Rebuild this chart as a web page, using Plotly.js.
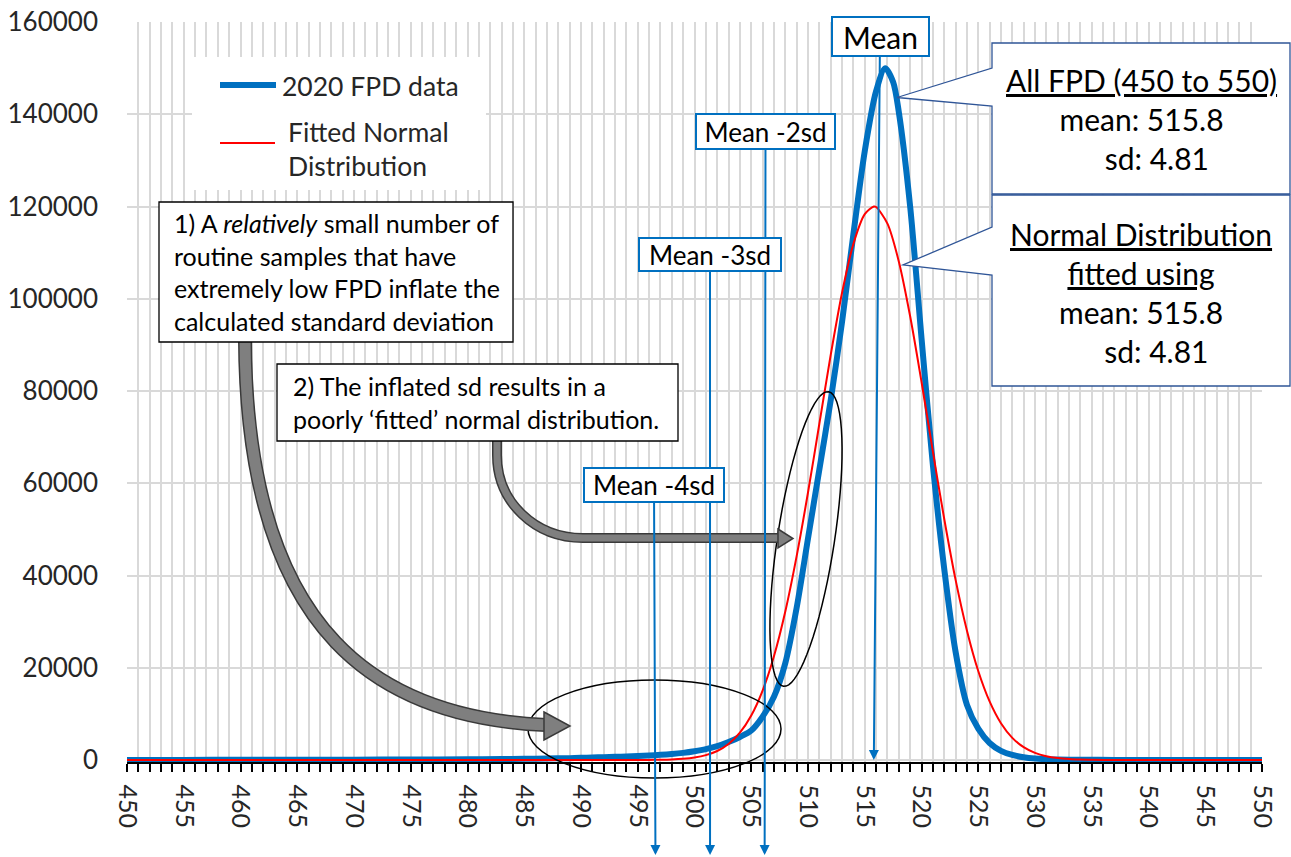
<!DOCTYPE html>
<html><head><meta charset="utf-8">
<script src="https://cdn.plot.ly/plotly-3.0.1.min.js"></script>
<style>html,body{margin:0;padding:0;background:#fff}</style>
</head><body>
<div id="chart" style="width:1291px;height:857px"></div>
<script>
// ---------- data ----------
const fpdX = [450,455,460,465,470,475,480,483,485,487,489,490,491,492,493,494,495,496,497,498,499,500,501,502,503,504,505,506,507,508,509,510,511,512,513,514,515,516,516.8,517.5,518,519,520,521,522,523,524,525,526,527,528,529,530,531,532,534,537,540,545,550];
const fpdCounts = [20,30,40,60,80,110,160,210,250,320,410,470,540,610,690,780,880,990,1120,1300,1550,1900,2350,3000,3900,5000,6400,9400,13700,21000,33000,48000,63000,78000,95000,114000,132000,145000,150000,147000,140500,120000,91500,64000,41500,23500,12000,6800,3700,2000,1100,600,320,170,100,50,30,25,20,15];
const fitX = [450,460,470,480,490,494,496,497,498,499,500,501,502,503,504,505,506,507,508,509,510,511,512,513,514,515,515.8,516,517,518,519,520,521,522,523,524,525,526,527,528,529,530,531,532,533,534,535,537,540,545,550];
const fitCounts = [0,0,0,0,0,5,23,55,125,270,545,1060,1960,3480,5920,9650,15060,22500,32200,44200,58000,72900,87800,101300,111900,118350,120000,119900,116300,108100,96200,82000,66900,52300,39100,28100,19300,12700,7980,4810,2780,1540,815,413,200,93,42,8,1,0,0];
const seriesNames = ['2020 FPD data', 'Fitted Normal<br>Distribution'];
const xTickVals = [450,455,460,465,470,475,480,485,490,495,500,505,510,515,520,525,530,535,540,545,550];
const yTickVals = [0,20000,40000,60000,80000,100000,120000,140000,160000];
const meanValue = 515.8;
const sdValue = 4.81;
const sdMultiples = [0, 2, 3, 4];
const sdLabels = ['Mean', 'Mean -2sd', 'Mean -3sd', 'Mean -4sd'];

// ---------- geometry helpers (pixel -> paper) ----------
const PL = 127, PT = 22, PW = 1135, PB = 762, PH = PB - PT;
const fx = v => (v - PL) / PW;
const fy = v => (PB - v) / PH;
const xpx = v => PL + (v - 450) / 100 * PW;
const P = (x, y) => fx(x).toFixed(5) + ',' + fy(y).toFixed(5);
const toPaper = d => d.replace(/(-?\d+\.?\d*),(-?\d+\.?\d*)/g, (m, a, b) => P(+a, +b));

const FONT = 'Lato, "Open Sans", sans-serif';
const TXT = '#262626';
const BLUE = '#0070c0';

const traces = [
  {x: fpdX, y: fpdCounts, name: seriesNames[0], type: 'scatter', mode: 'lines',
   line: {color: BLUE, width: 6, shape: 'spline', smoothing: 0.8}},
  {x: fitX, y: fitCounts, name: seriesNames[1], type: 'scatter', mode: 'lines',
   line: {color: '#ff0000', width: 2, shape: 'spline', smoothing: 0.8}}
];

const shapes = [];
// legend background
shapes.push({type: 'rect', xref: 'paper', yref: 'paper', x0: fx(192), x1: fx(486), y0: fy(190), y1: fy(57),
  fillcolor: '#ffffff', line: {width: 0}, layer: 'above'});
shapes.push({type: 'line', xref: 'paper', yref: 'paper', x0: fx(220), x1: fx(276), y0: fy(85), y1: fy(85),
  line: {color: BLUE, width: 6}, layer: 'above'});
shapes.push({type: 'line', xref: 'paper', yref: 'paper', x0: fx(220), x1: fx(275), y0: fy(143), y1: fy(143),
  line: {color: '#ff0000', width: 2}, layer: 'above'});
// callouts
const CALLOUT = '#2f5597';
shapes.push({type: 'path', xref: 'paper', yref: 'paper', layer: 'above', fillcolor: '#ffffff',
  line: {color: CALLOUT, width: 1.3},
  path: toPaper('M992,43 L1290,43 L1290,194 L992,194 L992,106 L897,97.5 L992,68 Z')});
shapes.push({type: 'path', xref: 'paper', yref: 'paper', layer: 'above', fillcolor: '#ffffff',
  line: {color: CALLOUT, width: 1.3},
  path: toPaper('M992,195 L1290,195 L1290,386 L992,386 L992,275 L903,265 L992,227 Z')});
// ellipse 1
shapes.push({type: 'circle', xref: 'paper', yref: 'paper', layer: 'above',
  x0: fx(528), x1: fx(781), y0: fy(778), y1: fy(680), line: {color: '#000000', width: 1.5}});
// ellipse 2 (tilted)
(function () {
  const cx = 806, cy = 539, a = 149, b = 28.5, ux = 0.1513, uy = -0.9885, vx = 0.9885, vy = 0.1513;
  let d = '';
  for (let i = 0; i <= 72; i++) {
    const t = i / 72 * 2 * Math.PI;
    const x = cx + a * Math.cos(t) * ux + b * Math.sin(t) * vx;
    const y = cy + a * Math.cos(t) * uy + b * Math.sin(t) * vy;
    d += (i === 0 ? 'M' : ' L') + x.toFixed(2) + ',' + y.toFixed(2);
  }
  shapes.push({type: 'path', xref: 'paper', yref: 'paper', layer: 'above', path: toPaper(d + ' Z'),
    line: {color: '#000000', width: 1.5}});
})();
// gray block arrows
function blockArrow(body, head, w) {
  shapes.push({type: 'path', xref: 'paper', yref: 'paper', layer: 'above', path: toPaper(body),
    line: {color: '#3a3a3a', width: w + 3}});
  shapes.push({type: 'path', xref: 'paper', yref: 'paper', layer: 'above', path: toPaper(body),
    line: {color: '#7f7f7f', width: w}});
  shapes.push({type: 'path', xref: 'paper', yref: 'paper', layer: 'above', path: toPaper(head),
    fillcolor: '#7f7f7f', line: {color: '#3a3a3a', width: 1.5}});
}
blockArrow('M245,338 C246,640 385,718 546,725', 'M544,712 L570,726 L544,740 Z', 11);
blockArrow('M497,438 L497,455 C497,502 535,538 583,538 L780,538', 'M778,529 L793,538.5 L778,548 Z', 7);
// note boxes (frames)
shapes.push({type: 'rect', xref: 'paper', yref: 'paper', layer: 'above', x0: fx(159), x1: fx(513), y0: fy(342), y1: fy(202),
  fillcolor: '#ffffff', line: {color: '#000000', width: 1.3}});
shapes.push({type: 'rect', xref: 'paper', yref: 'paper', layer: 'above', x0: fx(277), x1: fx(678), y0: fy(441), y1: fy(364),
  fillcolor: '#ffffff', line: {color: '#000000', width: 1.3}});

// ---------- annotations ----------
const annotations = [];
const markerBoxes = [
  {cx: 880, cy: 36, w: 99, h: 41, fs: 30},
  {cx: 765.5, cy: 131.5, w: 141, h: 37, fs: 26},
  {cx: 710, cy: 254.5, w: 144, h: 35, fs: 26},
  {cx: 654, cy: 485, w: 142, h: 36, fs: 26}
];
sdMultiples.forEach((k, i) => {
  const xv = meanValue - k * sdValue;
  const mb = markerBoxes[i];
  const tipY = k === 0 ? 760 : 855;
  annotations.push({
    x: xv, xref: 'x', y: k === 0 ? 0 : fy(855), yref: k === 0 ? 'y' : 'paper',
    text: sdLabels[i], showarrow: true, arrowhead: 2, arrowsize: 1, arrowwidth: 2, arrowcolor: BLUE,
    ax: mb.cx - xpx(xv), ay: mb.cy - tipY, axref: 'pixel', ayref: 'pixel', standoff: 0,
    bgcolor: '#ffffff', bordercolor: BLUE, borderwidth: 2, borderpad: 0,
    width: mb.w - 4, height: mb.h - 4, align: 'center', valign: 'middle',
    font: {family: FONT, size: mb.fs, color: '#000000'}
  });
});
// legend texts
annotations.push({xref: 'paper', yref: 'paper', x: fx(280), y: fy(86), xanchor: 'left', yanchor: 'middle',
  text: seriesNames[0], showarrow: false, align: 'left', font: {family: FONT, size: 26.5, color: TXT}});
annotations.push({xref: 'paper', yref: 'paper', x: fx(286), y: fy(149), xanchor: 'left', yanchor: 'middle',
  text: seriesNames[1], showarrow: false, align: 'left', font: {family: FONT, size: 26.5, color: TXT}});
// note texts
annotations.push({xref: 'paper', yref: 'paper', x: fx(172), y: fy(272), xanchor: 'left', yanchor: 'middle',
  text: '1) A <i>relatively</i> small number of<br>routine samples that have<br>extremely low FPD inflate the<br>calculated standard deviation',
  showarrow: false, align: 'left', font: {family: FONT, size: 25, color: '#000000'}});
annotations.push({xref: 'paper', yref: 'paper', x: fx(291), y: fy(402.5), xanchor: 'left', yanchor: 'middle',
  text: '2) The inflated sd results in a<br>poorly \u2018fitted\u2019 normal distribution.',
  showarrow: false, align: 'left', font: {family: FONT, size: 25, color: '#000000'}});
// callout texts
const SP = '\u00a0\u00a0\u00a0\u00a0';
annotations.push({xref: 'paper', yref: 'paper', x: fx(1141), y: fy(119), xanchor: 'center', yanchor: 'middle',
  text: '<u>All FPD (450 to 550)</u><br>mean: ' + meanValue.toFixed(1) + '<br>' + SP + 'sd: ' + sdValue.toFixed(2),
  showarrow: false, align: 'center', font: {family: FONT, size: 30, color: '#000000'}});
annotations.push({xref: 'paper', yref: 'paper', x: fx(1141), y: fy(292), xanchor: 'center', yanchor: 'middle',
  text: '<u>Normal Distribution</u><br><u>fitted using</u><br>mean: ' + meanValue.toFixed(1) + '<br>' + SP + 'sd: ' + sdValue.toFixed(2),
  showarrow: false, align: 'center', font: {family: FONT, size: 30, color: '#000000'}});

const GRID = '#d9d9d9';
const layout = {
  width: 1291, height: 857,
  margin: {l: PL, r: 1291 - PL - PW, t: PT, b: 857 - PB},
  paper_bgcolor: '#ffffff', plot_bgcolor: '#ffffff',
  showlegend: false,
  font: {family: FONT, color: TXT},
  xaxis: {
    range: [450, 550], tickmode: 'array', tickvals: xTickVals, ticktext: xTickVals.map(String),
    tickangle: 90, tickfont: {family: FONT, size: 25, color: TXT},
    ticks: 'outside', ticklen: 8, tickwidth: 2, tickcolor: '#000000', ticklabelstandoff: 8,
    showgrid: true, gridcolor: GRID, gridwidth: 2,
    showline: true, linecolor: '#000000', linewidth: 1.5, zeroline: false,
    minor: {dtick: 1, tick0: 450, ticks: 'outside', ticklen: 8, tickwidth: 2, tickcolor: '#000000',
            showgrid: true, gridcolor: GRID, gridwidth: 2}
  },
  yaxis: {
    range: [-430, 160000], tickmode: 'array', tickvals: yTickVals, ticktext: yTickVals.map(String),
    tickfont: {family: FONT, size: 26, color: TXT}, ticks: '', ticklabelstandoff: 28,
    showgrid: true, gridcolor: GRID, gridwidth: 2, zeroline: false, showline: false
  },
  shapes: shapes,
  annotations: annotations
};
Plotly.newPlot('chart', traces, layout, {displayModeBar: false, staticPlot: true});
</script>
</body></html>
